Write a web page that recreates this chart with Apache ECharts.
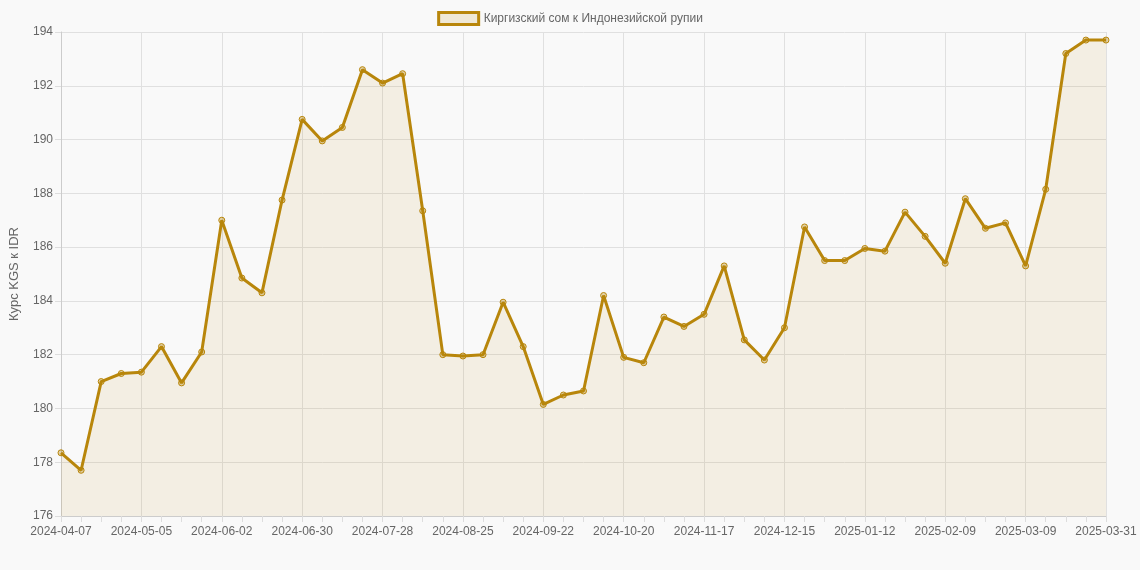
<!DOCTYPE html>
<html lang="ru">
<head>
<meta charset="UTF-8">
<title>KGS/IDR</title>
<script src="https://cdn.jsdelivr.net/npm/echarts@6/dist/echarts.min.js"></script>
<style>
html,body{margin:0;padding:0;background:#f9f9f9;}
#chart{width:1140px;height:570px;}
</style>
</head>
<body>
<div id="chart"></div>
<script>
// weekly dates, last two are 03-30 and 03-31
var dates = [];
(function () {
	var d = new Date(Date.UTC(2024, 3, 7));
	for (var i = 0; i < 52; i++) {
		dates.push(d.toISOString().slice(0, 10));
		d.setUTCDate(d.getUTCDate() + 7);
	}
	dates.push('2025-03-31');
})();

var rates = [178.35, 177.7, 181.0, 181.3, 181.35, 182.3, 180.95, 182.1, 187.0, 184.85,
	184.3, 187.75, 190.75, 189.95, 190.45, 192.6, 192.1, 192.45, 187.35, 182.0,
	181.95, 182.0, 183.95, 182.3, 180.15, 180.5, 180.65, 184.2, 181.9, 181.7,
	183.4, 183.05, 183.5, 185.3, 182.55, 181.8, 183.0, 186.75, 185.5, 185.5,
	185.95, 185.85, 187.3, 186.4, 185.4, 187.8, 186.7, 186.9, 185.3, 188.15,
	193.2, 193.7, 193.7];

var seriesName = 'Киргизский сом к Индонезийской рупии';
var lineColor = '#b8860b';

var myChart = echarts.init(document.getElementById('chart'));
var option = {
	backgroundColor: '#f9f9f9',
	animation: false,
	legend: {
		top: 6,
		itemWidth: 40,
		itemHeight: 12,
		textStyle: {color: '#666', fontSize: 12, fontFamily: 'Arial'},
		data: [{name: seriesName, icon: 'rect', itemStyle: {color: 'rgba(184,134,11,0.15)', borderColor: lineColor, borderWidth: 3}}]
	},
	grid: {left: 59, right: 34, top: 32, bottom: 54},
	xAxis: {
		type: 'category',
		boundaryGap: false,
		data: dates,
		axisLine: {lineStyle: {color: '#ccc'}},
		axisTick: {show: true, interval: 0, length: 6, lineStyle: {color: '#ddd'}},
		axisLabel: {interval: 3, color: '#666', fontSize: 12, fontFamily: 'Arial', margin: 10},
		splitLine: {show: true, interval: 3, lineStyle: {color: '#e0e0e0'}}
	},
	yAxis: {
		type: 'value',
		min: 176, max: 194, interval: 2,
		name: 'Курс KGS к IDR',
		nameLocation: 'middle',
		nameGap: 40,
		nameTextStyle: {color: '#666', fontSize: 13, fontFamily: 'Arial'},
		axisLine: {show: true, lineStyle: {color: '#ccc'}},
		axisTick: {show: true, length: 6, lineStyle: {color: '#ddd'}},
		axisLabel: {color: '#666', fontSize: 12, fontFamily: 'Arial'},
		splitLine: {lineStyle: {color: '#e0e0e0'}}
	},
	series: [{
		name: seriesName,
		type: 'line',
		data: rates,
		symbol: 'circle',
		symbolSize: 6,
		itemStyle: {color: 'rgba(184,134,11,0.35)', borderColor: lineColor, borderWidth: 1},
		lineStyle: {color: lineColor, width: 3},
		areaStyle: {color: 'rgba(184,134,11,0.13)'}
	}]
};
myChart.setOption(option);
</script>
</body>
</html>
